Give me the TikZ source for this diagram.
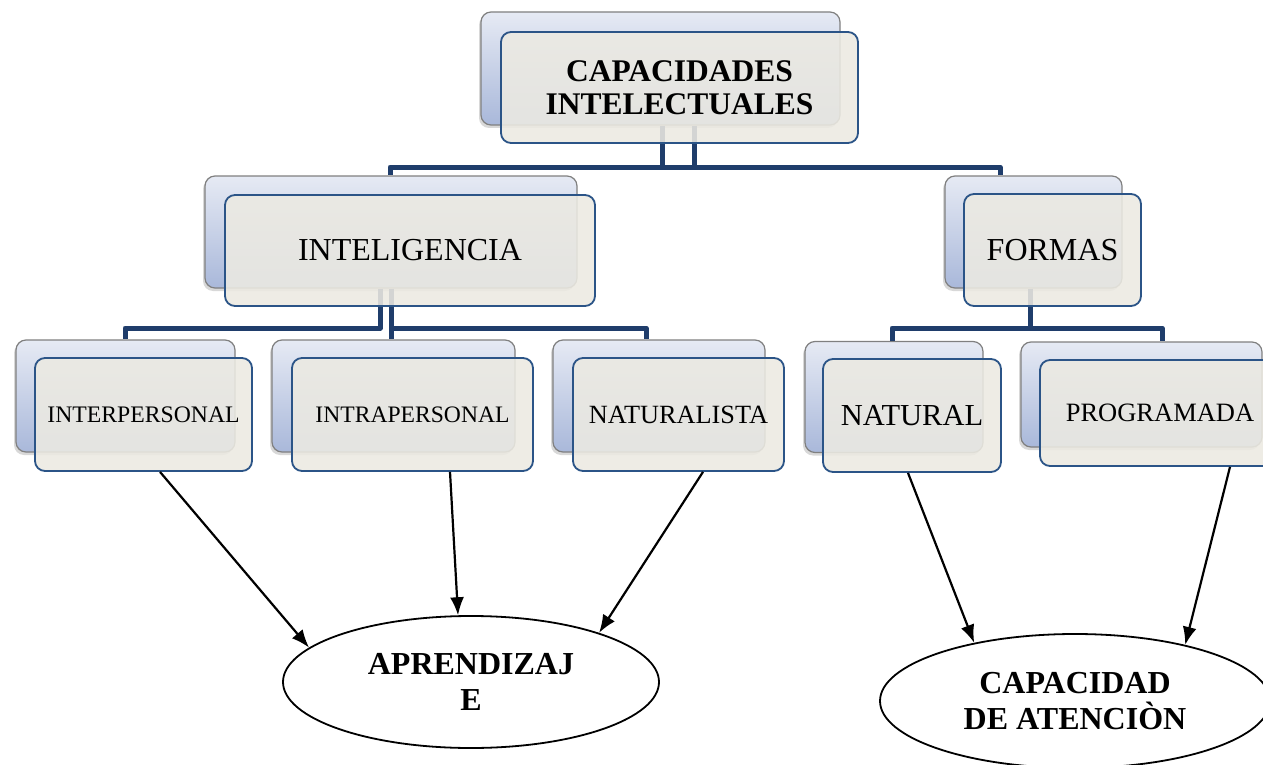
\documentclass[tikz,border=0pt]{standalone}
\usepackage{fontspec}
\setmainfont{Liberation Serif}
\usetikzlibrary{shapes.geometric,shadows,arrows.meta}
\definecolor{navy}{HTML}{1F3D6B}
\definecolor{frontedge}{HTML}{2B5487}
\definecolor{frontfill}{HTML}{ECEAE2}
\definecolor{backtop}{HTML}{E6EAF4}
\definecolor{backbot}{HTML}{A9B8DA}
\definecolor{backedge}{HTML}{808080}
\tikzset{
 backbox/.style={rectangle, rounded corners=10pt, draw=backedge, line width=1.2pt,
   top color=backtop, bottom color=backbot,
   drop shadow={shadow xshift=-2pt, shadow yshift=-3pt, opacity=0.3}, inner sep=0pt},
 frontbox/.style={rectangle, rounded corners=10pt, draw=frontedge, line width=1.8pt,
   fill=frontfill, fill opacity=0.88, text opacity=1, inner sep=0pt, align=center},
 conn/.style={draw=navy, line width=5pt, line join=round},
 arr/.style={draw=black, line width=2.2pt, -{Latex[length=18pt,width=14pt]}},
 oval/.style={ellipse, draw=black, line width=1.8pt, fill=white, inner sep=0pt,
   align=center, font=\bfseries\fontsize{32}{36}\selectfont},
}
\begin{document}
\begin{tikzpicture}[x=1pt,y=-1pt]
\useasboundingbox (0,0) rectangle (1263,765);
\fill[white] (0,0) rectangle (1263,765);
\clip (0,0) rectangle (1263,765);

% back boxes
\node[backbox, minimum width=359pt, minimum height=113pt] (capB) at (660.5,68.5) {};
\node[backbox, minimum width=372pt, minimum height=112pt] (intB) at (391,232) {};
\node[backbox, minimum width=177pt, minimum height=112pt] (forB) at (1033.5,232) {};
\node[backbox, minimum width=219pt, minimum height=112pt] (ierB) at (125.5,396) {};
\node[backbox, minimum width=243pt, minimum height=112pt] (iraB) at (393.5,396) {};
\node[backbox, minimum width=212pt, minimum height=112pt] (natlB) at (659,396) {};
\node[backbox, minimum width=178pt, minimum height=111pt] (natB) at (894,397) {};
\node[backbox, minimum width=241pt, minimum height=105pt] (proB) at (1141.5,394.5) {};

% connectors
\draw[conn] (capB.south -| 662,0) -- (662,167) -| (intB.north -| 390,0);
\draw[conn] (capB.south -| 694,0) -- (694,167) -| (forB.north -| 1000,0);
\draw[conn] (662,167) -- (694,167);
\draw[conn] (intB.south -| 380,0) -- (380,328) -| (ierB.north -| 125,0);
\draw[conn] (intB.south -| 391,0) -- (iraB.north -| 391,0);
\draw[conn] (391,328) -| (natlB.north -| 646,0);
\draw[conn] (forB.south -| 1030,0) -- (1030,328);
\draw[conn] (natB.north -| 892,0) |- (1162,328) -- (proB.north -| 1162,0);

% front boxes
\node[frontbox, minimum width=357pt, minimum height=111pt,
  font=\bfseries\fontsize{31.5}{33}\selectfont] (cap) at (679.5,87.5) {CAPACIDADES\\INTELECTUALES};
\node[frontbox, minimum width=370pt, minimum height=111pt,
  font=\fontsize{32}{36}\selectfont] (int) at (410,250.5) {INTELIGENCIA};
\node[frontbox, minimum width=177pt, minimum height=112pt,
  font=\fontsize{32}{36}\selectfont] (for) at (1052.5,250) {FORMAS};
\node[frontbox, minimum width=217pt, minimum height=113pt,
  font=\fontsize{23.7}{28}\selectfont] (ier) at (143.5,414.5) {INTERPERSONAL};
\node[frontbox, minimum width=241pt, minimum height=113pt,
  font=\fontsize{23.6}{28}\selectfont] (ira) at (412.5,414.5) {INTRAPERSONAL};
\node[frontbox, minimum width=211pt, minimum height=113pt,
  font=\fontsize{26.3}{30}\selectfont] (natl) at (678.5,414.5) {NATURALISTA};
\node[frontbox, minimum width=178pt, minimum height=113pt,
  font=\fontsize{30.5}{34}\selectfont] (nat) at (912,415.5) {NATURAL};
\node[frontbox, minimum width=240pt, minimum height=106pt,
  font=\fontsize{26.5}{30}\selectfont] (pro) at (1160,413) {PROGRAMADA};

% ellipses
\node[oval, minimum width=376pt, minimum height=132pt] (apr) at (471,682) {APRENDIZAJ\\E};
\node[oval, minimum width=390pt, minimum height=134pt] (cda) at (1075,701) {CAPACIDAD\\DE ATENCIÒN};

% arrows
\draw[arr] (ier.south -| 160,0) -- (apr.168);
\draw[arr] (ira.south -| 450,0) -- (apr.101);
\draw[arr] (natl.south -| 703,0) -- (apr.21);
\draw[arr] (nat.south -| 908,0) -- (cda.150);
\draw[arr] (pro.south -| 1230,0) -- (cda.27);
\end{tikzpicture}
\end{document}
